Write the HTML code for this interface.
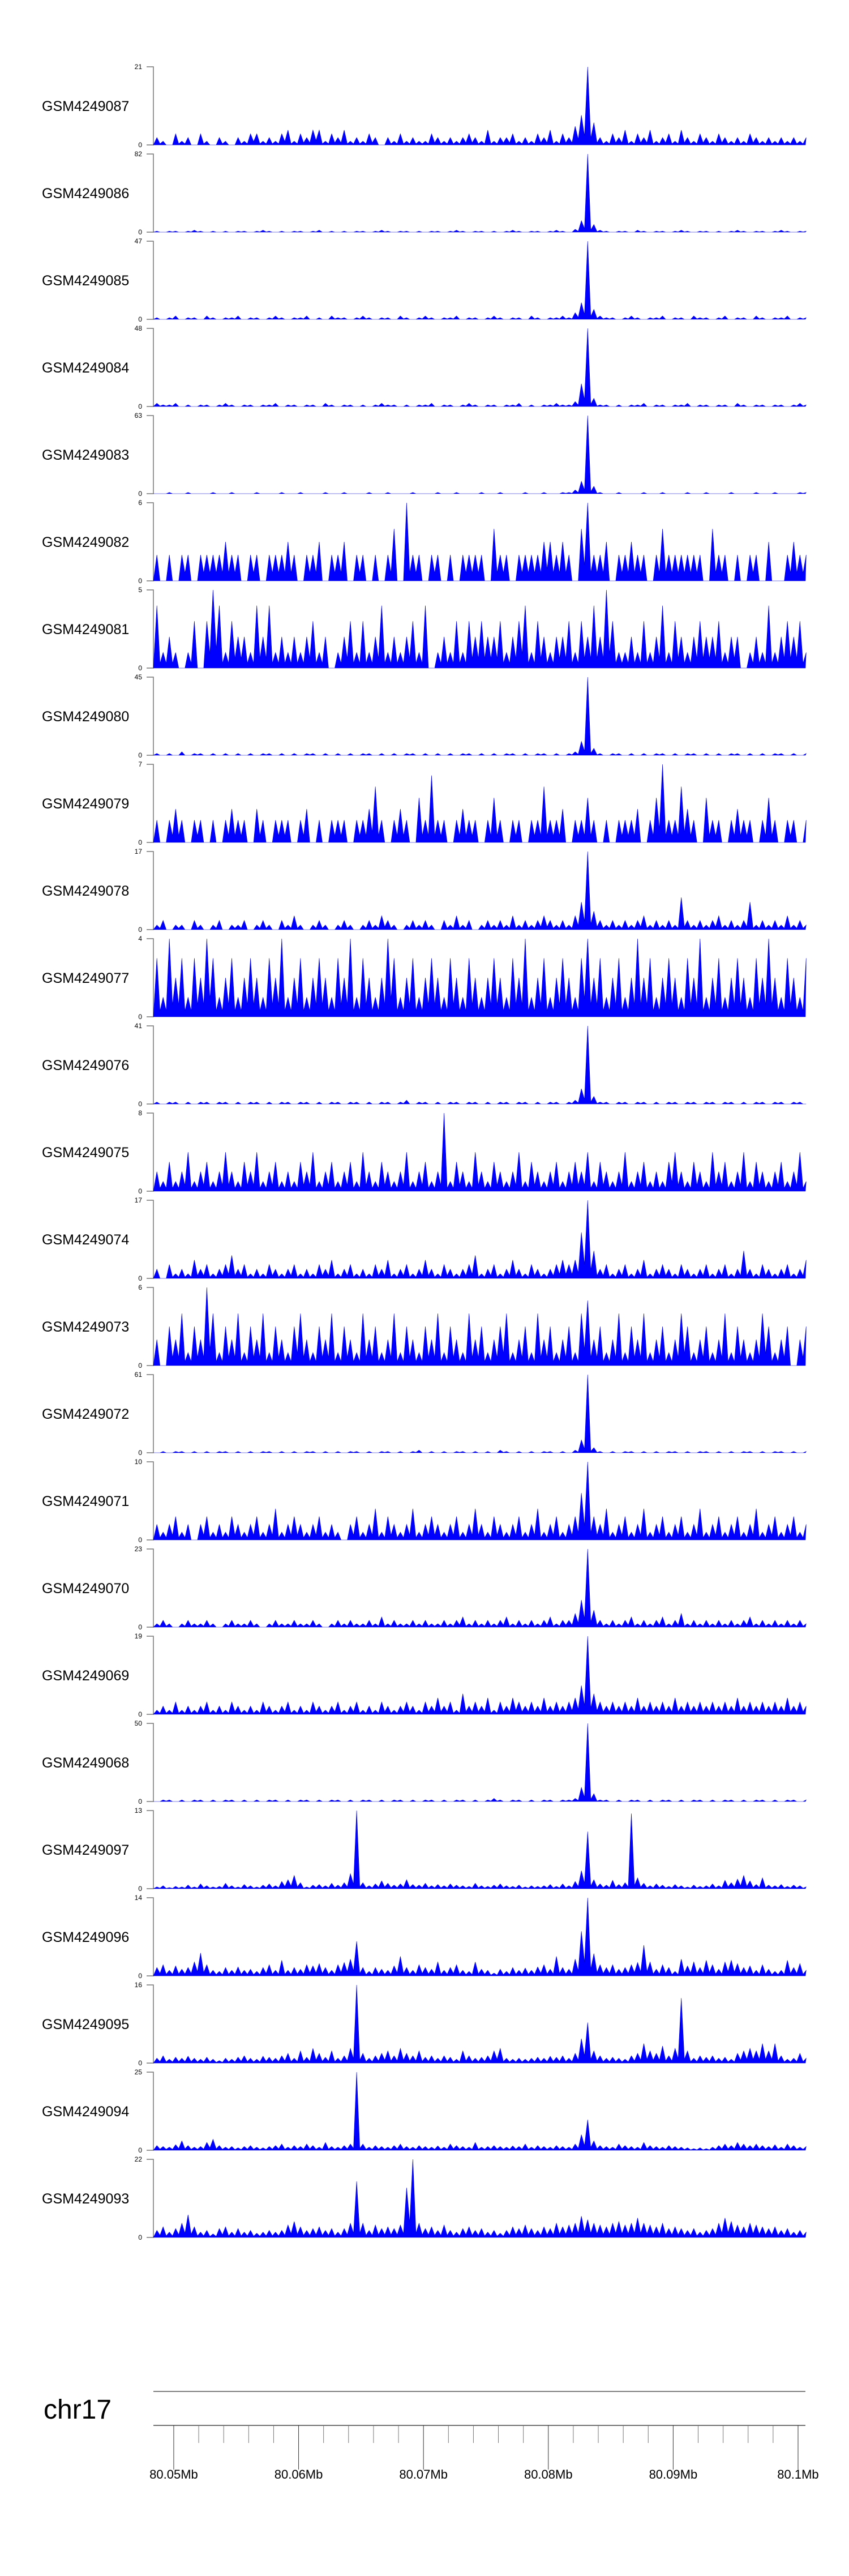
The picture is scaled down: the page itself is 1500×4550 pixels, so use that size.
<!DOCTYPE html>
<html><head><meta charset="utf-8"><style>
html,body{margin:0;padding:0;background:#fff;}
svg{display:block;font-family:"Liberation Sans",sans-serif;}
</style></head><body>
<svg id="chart" width="1500" height="4550" viewBox="0 0 1500 4550" xmlns="http://www.w3.org/2000/svg"></svg>
<script>
const trackNames = ["GSM4249087","GSM4249086","GSM4249085","GSM4249084","GSM4249083","GSM4249082","GSM4249081","GSM4249080","GSM4249079","GSM4249078","GSM4249077","GSM4249076","GSM4249075","GSM4249074","GSM4249073","GSM4249072","GSM4249071","GSM4249070","GSM4249069","GSM4249068","GSM4249097","GSM4249096","GSM4249095","GSM4249094","GSM4249093"];
const yMax = [21,82,47,48,63,6,5,45,7,17,4,41,8,17,6,61,10,23,19,50,13,14,16,25,22];
const binStartMb = 80.0484;
const binSizeMb = 0.0005;
const axisTicksMb = [80.05,80.052,80.054,80.056,80.058,80.06,80.062,80.064,80.066,80.068,80.07,80.072,80.074,80.076,80.078,80.08,80.082,80.084,80.086,80.088,80.09,80.092,80.094,80.096,80.098,80.1];
const axisLabels = ["80.05Mb","80.06Mb","80.07Mb","80.08Mb","80.09Mb","80.1Mb"];
const axisLabelMb = [80.05,80.06,80.07,80.08,80.09,80.1];
const v087=[2,1,0,3,1,2,0,3,1,0,2,1,0,2,1,3,3,1,2,1,3,4,1,3,2,4,4,1,3,2,4,1,2,1,3,2,0,2,1,3,1,2,1,1,3,2,1,2,1,2,3,2,1,4,1,2,2,3,1,2,1,3,2,4,1,3,2,5,8,21,6,2,1,3,2,4,1,3,2,4,1,2,3,1,4,2,1,3,2,1,3,2,1,2,1,3,2,1,2,1,2,1,2,1,2];
const v086=[1,0,1,1,0,1,2,1,0,1,0,1,0,1,1,0,1,2,1,0,1,0,1,1,0,1,2,0,1,0,1,0,1,1,0,1,2,1,0,1,1,0,1,0,1,1,0,1,2,1,0,1,1,0,1,0,1,2,1,0,1,1,0,1,2,1,0,3,12,82,8,2,1,0,1,1,0,2,1,0,1,1,0,1,2,1,0,1,1,0,1,0,1,2,1,0,1,1,0,1,2,1,0,1,1];
const v085=[1,0,1,2,0,1,1,0,2,1,0,1,1,2,0,1,1,0,1,2,1,0,1,1,2,0,1,0,2,1,1,0,1,2,1,0,1,1,0,2,1,0,1,2,1,0,1,1,2,0,1,1,0,1,2,1,0,1,1,0,2,1,0,1,1,2,1,4,10,47,6,2,1,1,0,1,2,1,0,1,1,2,0,1,1,0,2,1,1,0,1,2,0,1,1,0,2,1,0,1,1,2,0,1,1];
const v084=[2,1,1,2,0,1,0,1,1,0,1,2,1,0,1,1,0,1,1,2,0,1,1,0,1,1,0,2,1,0,1,1,0,1,0,1,2,1,1,0,1,0,1,1,2,0,1,1,0,1,2,1,0,1,1,0,1,1,2,0,1,0,1,1,2,1,1,3,14,48,5,1,1,0,1,0,1,1,2,0,1,1,0,1,1,2,0,1,1,0,1,1,0,2,1,0,1,1,0,1,1,0,1,2,1];
const v083=[0,0,1,0,0,1,0,0,0,1,0,0,1,0,0,0,1,0,0,0,1,0,0,1,0,0,0,1,0,0,1,0,0,0,1,0,0,1,0,0,0,1,0,0,0,1,0,0,1,0,0,0,1,0,0,1,0,0,0,1,0,0,1,0,0,1,1,3,10,63,6,1,0,0,1,0,0,0,1,0,0,1,0,0,0,1,0,0,1,0,0,0,1,0,0,0,1,0,0,1,0,0,0,1,1];
const v082=[2,0,2,0,2,2,0,2,2,2,2,3,2,2,0,2,2,0,2,2,2,3,2,0,2,2,3,0,2,2,3,0,2,2,0,2,0,2,4,0,6,2,2,0,2,2,0,2,0,2,2,2,2,0,4,2,2,0,2,2,2,2,3,3,2,3,2,0,4,6,2,2,3,0,2,2,3,2,2,0,2,4,2,2,2,2,2,2,0,4,2,2,0,2,0,2,2,0,3,0,0,2,3,2,2];
const v081=[4,1,2,1,0,1,3,0,3,5,4,1,3,2,2,1,4,2,4,1,2,1,2,1,2,3,1,2,0,1,2,3,1,3,1,2,4,1,2,1,2,3,1,4,0,1,2,1,3,1,3,2,3,2,2,3,1,2,3,4,1,3,2,1,2,2,3,1,3,2,4,2,5,3,1,1,2,1,3,1,2,4,1,3,2,1,2,3,2,2,3,1,2,2,0,1,2,1,4,1,2,3,2,3,1];
const v080=[1,0,1,0,2,0,1,1,0,1,0,1,0,1,0,1,0,1,1,0,1,0,1,0,1,1,0,1,0,1,0,1,0,1,1,0,1,0,1,0,1,1,0,1,0,1,0,1,0,1,1,0,1,0,1,0,1,1,0,1,0,1,1,0,1,0,1,2,8,45,4,1,0,1,1,0,1,0,1,0,1,1,0,1,0,1,1,0,1,0,1,0,1,1,0,1,0,1,0,1,1,0,1,0,1];
const v079=[2,0,2,3,2,0,2,2,0,2,0,2,3,2,2,0,3,2,0,2,2,2,0,2,3,0,2,0,2,2,2,0,2,2,3,5,2,0,2,3,2,0,4,2,6,2,2,0,2,3,2,2,0,2,4,2,0,2,2,0,2,2,5,2,2,3,0,2,2,4,2,0,2,0,2,2,2,3,0,2,4,7,2,2,5,3,2,0,4,2,2,0,2,3,2,2,0,2,4,2,0,2,2,0,2];
const v078=[1,2,0,1,1,0,2,1,0,1,2,0,1,1,2,0,1,2,1,0,2,1,3,1,0,1,2,1,0,1,2,1,0,1,2,1,3,2,1,0,1,2,1,2,1,0,2,1,3,1,2,0,1,2,1,2,1,3,1,2,1,2,3,2,1,2,1,3,6,17,4,2,1,2,1,2,1,2,3,1,2,1,2,1,7,2,1,2,1,2,3,1,2,1,2,6,1,2,1,2,1,3,1,2,1];
const v077=[3,1,4,2,3,1,3,2,4,3,1,2,3,1,2,3,2,1,3,2,4,1,2,3,1,2,3,2,1,3,2,4,1,3,2,1,2,4,3,1,2,3,1,2,3,2,1,3,2,1,3,2,1,2,3,2,1,3,2,4,1,2,3,1,2,3,2,1,3,4,2,3,1,2,3,1,2,4,2,3,1,2,3,2,1,3,2,4,1,2,3,1,2,3,2,1,3,2,4,2,1,3,2,1,3];
const v076=[1,0,1,1,0,1,0,1,1,0,1,1,0,1,0,1,1,0,1,0,1,1,0,1,1,0,1,0,1,1,0,1,1,0,1,0,1,1,0,1,2,0,1,1,0,1,0,1,1,0,1,1,0,1,0,1,1,0,1,1,0,1,0,1,1,0,1,2,8,41,4,1,1,0,1,1,0,1,1,0,1,0,1,1,0,1,1,0,1,1,0,1,1,0,1,0,1,1,0,1,1,0,1,1,0];
const v075=[2,1,3,1,2,4,1,2,3,1,2,4,2,1,3,2,4,1,2,3,1,2,1,3,2,4,1,2,3,1,2,3,1,4,2,1,3,2,1,2,4,1,2,3,1,2,8,1,3,2,1,4,2,1,3,2,1,2,4,1,3,2,1,2,3,1,2,3,2,4,1,3,2,1,2,4,1,2,3,1,2,1,3,4,2,1,3,2,1,4,2,3,1,2,4,1,3,2,1,2,3,1,2,4,1];
const v074=[2,0,3,1,2,1,4,2,3,1,2,3,5,2,3,1,2,1,3,2,1,2,3,1,2,1,3,2,4,1,2,3,1,2,1,3,2,4,1,2,3,1,2,4,2,1,3,2,1,2,3,5,1,2,3,1,2,4,2,1,3,2,1,2,3,4,3,4,10,17,6,2,3,1,2,3,1,2,4,1,2,3,2,1,3,2,1,2,3,1,2,3,1,2,6,2,1,3,2,1,2,3,1,2,4];
const v073=[2,0,3,2,4,1,3,2,6,4,1,3,2,4,1,3,2,4,1,3,2,1,3,4,2,1,3,2,4,1,3,2,1,4,2,3,1,2,4,1,3,2,1,3,2,4,1,3,2,1,4,2,3,1,2,3,4,1,2,3,1,4,2,3,1,2,3,1,4,5,2,3,1,2,4,1,3,2,4,1,2,3,1,2,4,3,1,2,3,1,2,4,1,3,2,1,2,4,3,1,2,3,0,2,3];
const v072=[0,1,0,1,1,0,1,0,1,0,1,1,0,1,0,1,0,1,1,0,1,0,1,0,1,1,0,1,0,1,0,1,1,0,1,0,1,1,0,1,0,1,2,0,1,0,1,0,1,1,0,1,0,1,0,2,1,0,1,0,1,0,1,1,0,1,0,2,10,61,4,1,0,1,0,1,1,0,1,0,1,0,1,1,0,1,0,1,1,0,1,0,1,0,1,1,0,1,0,1,1,0,1,0,1];
const v071=[2,1,2,3,1,2,0,2,3,1,2,1,3,2,1,2,3,1,2,4,1,2,3,2,1,2,3,1,2,1,0,2,3,1,2,4,1,3,2,1,2,4,1,2,3,2,1,2,3,1,2,4,2,1,3,2,1,2,3,1,2,4,1,2,3,1,2,3,6,10,3,2,4,1,2,3,1,2,4,1,2,3,1,2,3,1,2,4,1,2,3,1,2,3,1,2,4,1,2,3,1,2,3,1,2];
const v070=[1,2,1,0,1,2,1,1,2,1,0,1,2,1,1,2,1,0,1,2,1,1,2,1,1,2,1,0,1,2,1,2,1,1,2,1,3,1,2,1,1,2,1,2,1,1,2,1,2,3,1,2,1,2,1,2,3,1,2,1,2,1,2,3,1,2,2,4,8,23,5,2,1,2,1,2,3,1,2,1,2,3,1,2,4,1,2,1,2,1,2,1,2,1,2,3,1,2,1,2,1,2,1,2,1];
const v069=[1,2,1,3,1,2,1,2,3,1,2,1,3,2,1,2,1,3,2,1,2,3,1,2,1,3,2,1,2,3,1,2,3,1,2,1,3,2,1,2,3,2,1,3,2,4,2,3,1,5,2,3,2,4,1,3,2,4,3,2,3,2,4,2,3,2,3,4,7,19,5,3,2,3,2,3,2,4,2,3,2,3,2,4,2,3,2,3,2,3,2,3,2,4,2,3,2,3,2,3,2,4,2,3,2];
const v068=[0,1,1,0,1,0,1,1,0,1,0,1,1,0,1,0,1,0,1,1,0,1,0,1,1,0,1,0,1,1,0,1,0,1,1,0,1,0,1,1,0,1,0,1,1,0,1,0,1,1,0,1,0,1,2,1,0,1,1,0,1,0,1,1,0,1,1,2,9,50,5,1,1,0,1,0,1,1,0,1,0,1,1,0,1,0,1,1,0,1,0,1,1,0,1,0,1,1,0,1,0,1,1,0,1];
const v097=[0.3,0.5,0.2,0.4,0.3,0.6,0.3,0.8,0.5,0.3,0.4,0.9,0.5,0.3,0.7,0.5,0.3,0.6,0.8,0.5,1.2,1.5,2.2,1.0,0.3,0.6,0.7,0.5,0.9,0.6,1.0,2.5,13,1.0,0.5,0.8,1.3,0.9,0.6,0.8,1.5,0.7,0.6,0.9,0.5,0.7,0.5,0.8,0.6,0.5,0.4,0.9,0.5,0.4,0.6,0.8,0.5,0.4,0.6,0.3,0.5,0.4,0.5,0.7,0.4,0.8,0.5,1.2,3.0,9.5,1.5,0.8,0.6,1.4,0.7,1.0,12.5,1.8,0.9,0.5,0.8,0.6,0.4,0.7,0.5,0.3,0.6,0.4,0.5,0.8,0.5,1.4,1.0,1.6,2.2,1.3,0.7,1.8,0.6,0.5,0.7,0.4,0.6,0.5,0.3];
const v096=[1.5,2.0,1.0,1.8,1.2,1.5,2.5,4.1,2.0,1.0,0.8,1.5,1.0,1.6,1.0,1.2,0.8,1.5,2.0,1.0,2.8,1.0,1.5,1.2,2.0,1.8,2.2,1.5,1.0,2.0,2.4,3.0,6.2,1.5,0.8,1.5,1.2,1.0,1.8,3.5,1.5,1.0,2.0,1.5,1.2,2.5,1.0,1.5,2.0,1.0,0.8,2.5,1.2,1.0,0.5,1.2,0.8,1.5,1.0,1.4,1.0,1.6,2.0,1.2,3.5,1.5,1.2,3.0,8.0,14,4.0,2.0,1.5,2.0,1.2,1.5,2.0,2.4,5.5,2.5,1.2,2.0,1.5,0.8,3.0,1.8,2.5,1.5,2.8,2.0,1.2,2.5,2.8,2.2,1.5,1.8,1.0,2.0,1.2,0.8,1.0,2.8,1.5,2.2,1.0];
const v095=[1.0,1.5,0.8,1.2,1.0,1.4,1.0,0.8,1.2,0.8,0.5,1.0,0.8,1.2,1.5,1.0,0.8,1.4,1.2,1.0,1.5,2.0,1.0,2.5,1.2,3.0,2.0,1.2,2.5,1.0,1.5,3.0,16,2.0,1.0,1.5,2.0,2.5,1.5,3.0,2.0,1.5,2.5,1.2,1.5,1.0,1.5,1.2,0.8,2.5,1.5,1.0,1.2,1.5,2.5,3.0,1.0,0.8,1.0,0.8,1.0,1.2,1.0,1.4,1.2,1.5,1.0,2.0,5.0,8.3,2.5,1.5,1.0,1.2,1.0,0.8,1.5,2.0,4.0,2.5,2.0,3.5,1.5,3.0,13.3,2.5,1.0,1.5,1.2,1.5,1.0,1.2,0.8,2.0,2.5,3.0,2.5,4.0,2.5,4.0,1.5,0.8,1.0,2.0,1.0];
const v094=[1.5,1.2,1.0,1.8,3.0,1.5,1.0,1.2,2.5,3.5,1.5,1.0,1.2,0.8,1.2,1.5,1.0,0.8,1.2,1.5,2.0,1.0,1.5,1.2,2.0,1.5,1.0,2.5,1.2,1.0,1.5,2.0,25,2.0,1.0,1.5,1.2,1.0,1.5,2.0,1.2,1.0,1.5,1.2,1.0,1.4,1.0,2.0,1.5,1.2,1.0,2.5,1.0,1.2,1.5,1.2,1.0,1.4,1.2,2.0,1.0,1.5,1.2,1.0,1.5,1.2,1.0,2.0,5.0,9.8,3.0,1.5,1.2,1.0,2.0,1.5,1.2,1.0,2.5,1.5,1.2,1.0,1.5,1.2,1.0,0.8,0.5,0.8,0.5,1.0,1.5,2.0,1.5,2.5,2.0,1.5,2.0,1.5,1.2,1.8,1.0,2.0,1.5,1.0,1.2];
const v093=[2.0,3.0,1.5,2.5,4.0,6.4,3.0,1.5,2.0,1.0,2.5,3.0,1.5,2.5,1.5,2.0,1.2,1.5,2.0,1.5,2.0,3.5,4.5,3.0,2.0,2.5,3.0,2.0,2.5,1.5,2.5,4.0,15.8,4.0,2.0,3.5,2.5,3.0,2.5,3.5,14,22,4.0,2.5,3.0,2.0,3.5,2.0,1.5,2.5,3.0,2.0,2.5,1.5,2.0,1.2,2.0,3.0,2.5,3.5,2.5,2.0,3.0,2.5,4.0,3.0,3.5,4.0,6.0,5.0,4.0,3.5,3.0,4.0,4.5,3.5,4.0,5.5,4.0,3.5,3.0,4.0,2.5,3.0,2.5,2.0,2.5,1.5,2.0,2.5,4.0,5.5,4.5,3.5,3.0,4.0,3.5,3.0,2.5,3.0,2.0,2.5,1.5,2.0,1.5];
const trackValues=[v087,v086,v085,v084,v083,v082,v081,v080,v079,v078,v077,v076,v075,v074,v073,v072,v071,v070,v069,v068,v097,v096,v095,v094,v093];

const NS="http://www.w3.org/2000/svg";
const svg=document.getElementById('chart');
const X0=271,X1=1423,MB0=80.04837,MB1=80.10059;
const TOP0=118,PERIOD=154,TH=138;
function xScale(mb){return X0+(mb-MB0)/(MB1-MB0)*(X1-X0);}
function yScale(v,max,zero){return zero-Math.min(v,max)/max*TH;}
function mk(tag,attrs){const e=document.createElementNS(NS,tag);for(const k in attrs)e.setAttribute(k,attrs[k]);svg.appendChild(e);return e;}

trackNames.forEach((name,i)=>{
  const top=TOP0+i*PERIOD, zero=top+TH, max=yMax[i], vals=trackValues[i];
  const lab=mk('text',{x:74,y:(top+zero)/2+9,'font-size':25,fill:'#000'});
  lab.textContent=name;
  
  
  const ax=mk('path',{d:`M${X0-12},${top}H${X0}V${zero}H${X0-12}`,fill:'none',stroke:'#777','stroke-width':1.5});
  
  
  const t1=mk('text',{x:251,y:top+4,'font-size':12,'text-anchor':'end',fill:'#000'});
  t1.textContent=String(max);
  
  
  const t0=mk('text',{x:251,y:zero+4,'font-size':12,'text-anchor':'end',fill:'#000'});
  t0.textContent='0';
  
  
  let d=`M${X0},${zero}`;
  vals.forEach((v,j)=>{
    const mb=binStartMb+binSizeMb*(j+0.5);
    d+=`L${xScale(mb).toFixed(1)},${yScale(v,max,zero).toFixed(1)}`;
    if(j<vals.length-1){
      const valley=Math.min(v,vals[j+1])*0.3;
      d+=`L${xScale(mb+binSizeMb/2).toFixed(1)},${yScale(valley,max,zero).toFixed(1)}`;
    }
  });
  d+=`L${X1},${zero}Z`;
  const area=mk('path',{d:d,fill:'#0000ff',stroke:'#0000cc','stroke-width':0.6});
  
  
});

const chr=mk('text',{x:77,y:4272,'font-size':48,fill:'#000'});
chr.textContent='chr17';


const ideo=mk('line',{x1:X0,x2:X1,y1:4224,y2:4224,stroke:'#555','stroke-width':1.5});


const axl=mk('line',{x1:X0,x2:X1,y1:4284,y2:4284,stroke:'#444','stroke-width':1.5});


axisTicksMb.forEach(mb=>{
  const major=axisLabelMb.some(m=>Math.abs(m-mb)<1e-7);
  const x=xScale(mb);
  const tk=mk('line',{x1:x,x2:x,y1:4284,y2:major?4362:4315,stroke:major?'#333':'#777','stroke-width':1});
  
  
});
axisLabels.forEach((lbl,i)=>{
  const t=mk('text',{x:xScale(axisLabelMb[i]),y:4378,'font-size':22,'text-anchor':'middle',fill:'#000'});
  t.textContent=lbl;
  
  
});
</script>
</body></html>
